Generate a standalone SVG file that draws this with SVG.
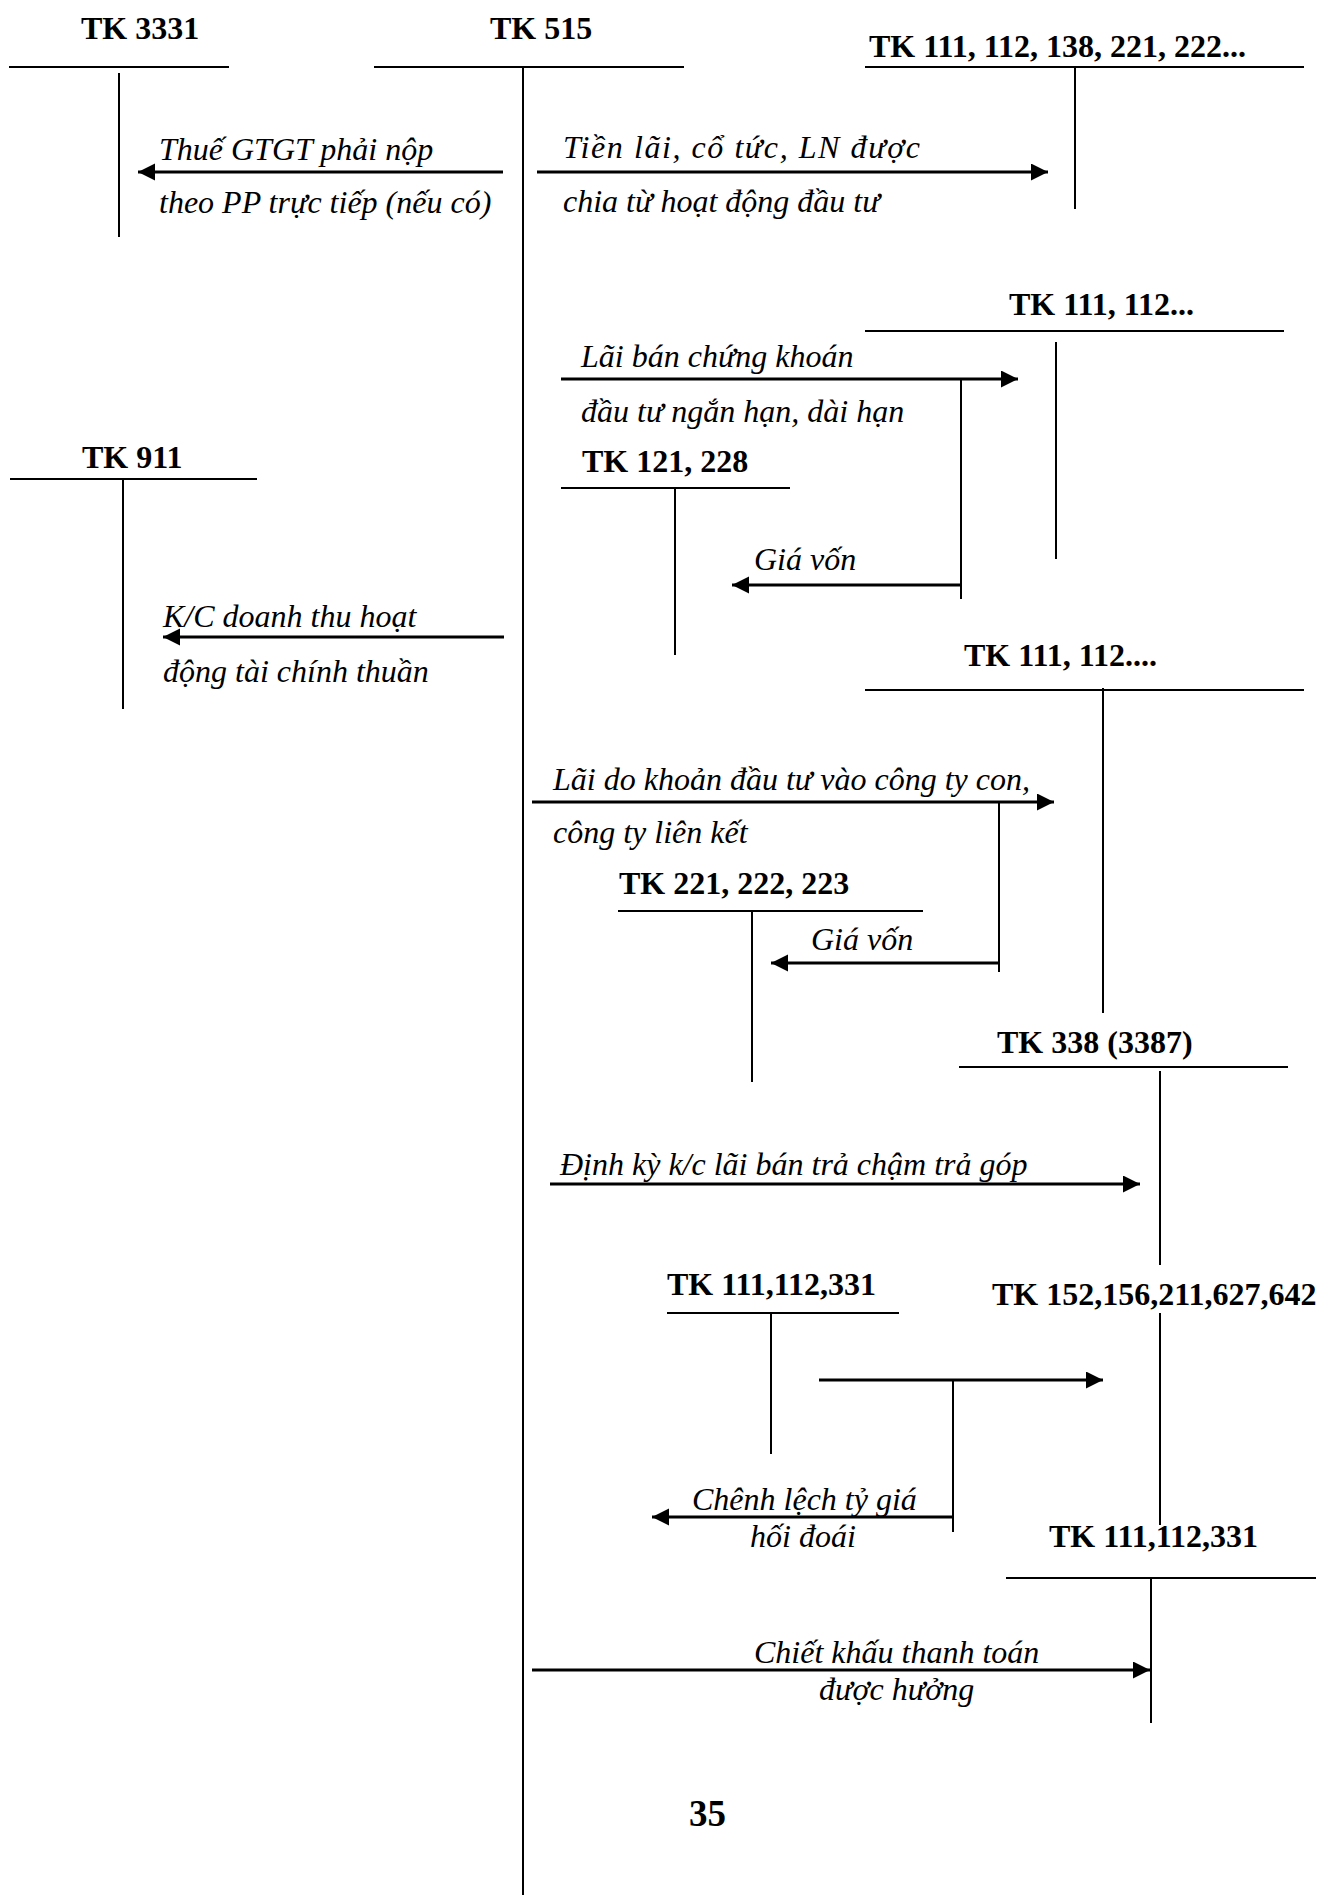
<svg xmlns="http://www.w3.org/2000/svg" width="1321" height="1895" viewBox="0 0 1321 1895">
<style>
.b{font-family:"Liberation Serif","Times New Roman",serif;font-weight:bold;font-size:32px;fill:#000}
.i{font-family:"Liberation Serif","Times New Roman",serif;font-style:italic;font-size:32px;fill:#000}
.t{stroke:#000;stroke-width:2;fill:none}
.a{stroke:#000;stroke-width:3;fill:none;marker-end:url(#ah)}
.l{stroke:#000;stroke-width:2;fill:none}
</style>
<defs>
<marker id="ah" markerUnits="userSpaceOnUse" markerWidth="18" markerHeight="18" refX="17" refY="8.5" orient="auto">
<path d="M0,0 L17,8.5 L0,17 z" fill="#000"/>
</marker>
</defs>
<rect width="1321" height="1895" fill="#fff"/>

<g id="tk3331"><text class="b" x="81" y="39">TK 3331</text><line class="t" x1="9" y1="67" x2="229" y2="67"/><line class="t" x1="119" y1="73" x2="119" y2="237"/></g>
<g id="tk515"><text class="b" x="490" y="39">TK 515</text><line class="t" x1="374" y1="67" x2="684" y2="67"/><line class="t" x1="523" y1="67" x2="523" y2="1895"/></g>
<g id="tk111a"><text class="b" x="869" y="57">TK 111, 112, 138, 221, 222...</text><line class="t" x1="865" y1="67" x2="1304" y2="67"/><line class="t" x1="1075" y1="67" x2="1075" y2="209"/></g>
<g id="tk111b"><text class="b" x="1009" y="315">TK 111, 112...</text><line class="t" x1="865" y1="331" x2="1284" y2="331"/><line class="t" x1="1056" y1="342" x2="1056" y2="559"/></g>
<g id="tk121"><text class="b" x="582" y="472">TK 121, 228</text><line class="t" x1="561" y1="488" x2="790" y2="488"/><line class="t" x1="675" y1="488" x2="675" y2="655"/></g>
<g id="tk911"><text class="b" x="82" y="468">TK 911</text><line class="t" x1="10" y1="479" x2="257" y2="479"/><line class="t" x1="123" y1="479" x2="123" y2="709"/></g>
<g id="tk111c"><text class="b" x="964" y="666">TK 111, 112....</text><line class="t" x1="865" y1="690" x2="1304" y2="690"/><line class="t" x1="1103" y1="688" x2="1103" y2="1013"/></g>
<g id="tk221"><text class="b" x="619" y="894">TK 221, 222, 223</text><line class="t" x1="618" y1="911" x2="923" y2="911"/><line class="t" x1="752" y1="911" x2="752" y2="1082"/></g>
<g id="tk338"><text class="b" x="997" y="1053">TK 338 (3387)</text><line class="t" x1="959" y1="1067" x2="1288" y2="1067"/><line class="t" x1="1160" y1="1071" x2="1160" y2="1265"/></g>
<g id="tk111d"><text class="b" x="667" y="1295">TK 111,112,331</text><line class="t" x1="667" y1="1313" x2="899" y2="1313"/><line class="t" x1="771" y1="1313" x2="771" y2="1454"/></g>
<g id="tk152"><text class="b" x="992" y="1305">TK 152,156,211,627,642</text><line class="t" x1="1160" y1="1313" x2="1160" y2="1525"/></g>
<g id="tk111e"><text class="b" x="1049" y="1547">TK 111,112,331</text><line class="t" x1="1006" y1="1578" x2="1316" y2="1578"/><line class="t" x1="1151" y1="1578" x2="1151" y2="1723"/></g>

<g id="connectors">
<line class="a" x1="503" y1="172" x2="138" y2="172"/>
<line class="a" x1="537" y1="172" x2="1048" y2="172"/>
<line class="a" x1="561" y1="379" x2="1018" y2="379"/>
<line class="l" x1="961" y1="379" x2="961" y2="599"/>
<line class="a" x1="961" y1="585" x2="732" y2="585"/>
<line class="a" x1="504" y1="637" x2="163" y2="637"/>
<line class="a" x1="532" y1="802" x2="1054" y2="802"/>
<line class="l" x1="999" y1="802" x2="999" y2="972"/>
<line class="a" x1="999" y1="963" x2="771" y2="963"/>
<line class="a" x1="550" y1="1184" x2="1140" y2="1184"/>
<line class="a" x1="819" y1="1380" x2="1103" y2="1380"/>
<line class="l" x1="953" y1="1380" x2="953" y2="1532"/>
<line class="a" x1="953" y1="1517" x2="652" y2="1517"/>
<line class="a" x1="532" y1="1670" x2="1150" y2="1670"/>
</g>

<g id="labels">
<text class="i" x="159" y="160">Thuế GTGT phải nộp</text>
<text class="i" x="159" y="213">theo PP trực tiếp (nếu có)</text>
<text class="i" x="563" y="158" textLength="357" lengthAdjust="spacing">Tiền  lãi,  cổ  tức,  LN  được</text>
<text class="i" x="563" y="212">chia từ hoạt động đầu tư</text>
<text class="i" x="581" y="367">Lãi bán chứng khoán</text>
<text class="i" x="581" y="422">đầu tư ngắn hạn, dài hạn</text>
<text class="i" x="754" y="570">Giá vốn</text>
<text class="i" x="163" y="627">K/C doanh thu hoạt</text>
<text class="i" x="163" y="682">động tài chính thuần</text>
<text class="i" x="553" y="790">Lãi do khoản đầu tư vào công ty con,</text>
<text class="i" x="553" y="843">công ty liên kết</text>
<text class="i" x="811" y="950">Giá vốn</text>
<text class="i" x="560" y="1175">Định kỳ k/c lãi bán trả chậm trả góp</text>
<text class="i" x="692" y="1510">Chênh lệch tỷ giá</text>
<text class="i" x="750" y="1547">hối đoái</text>
<text class="i" x="754" y="1663">Chiết khấu thanh toán</text>
<text class="i" x="819" y="1700">được hưởng</text>
<text class="b" x="689" y="1826" style="font-size:37px">35</text>
</g>
</svg>
